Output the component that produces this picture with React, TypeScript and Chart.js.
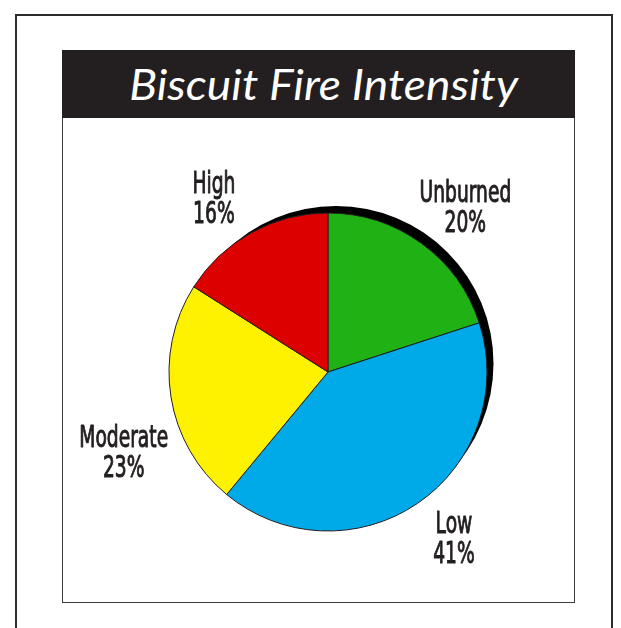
import React, { useEffect, useRef } from "react";
import { Chart, ArcElement, PieController } from "chart.js";

Chart.register(ArcElement, PieController);

const titleText = "Biscuit Fire Intensity";
const categories = ["Unburned", "Low", "Moderate", "High"];
const percentages = [20, 41, 23, 16];
const sliceColors = ["#20b215", "#00a9e8", "#fff200", "#dc0000"];

// label placement (nudges from the slice mid-angle anchor), px
const labelNudges: [number, number][] = [
  [14, 3],
  [8, -9],
  [3, 46],
  [-13, 8],
];

const INK = "#231f20";
const LABEL_FONT = "31px 'DejaVu Sans Condensed', 'DejaVu Sans', sans-serif";
const LABEL_SCALE_X = 0.67;
const LINE_SPACING = 30;
const CAP = 23;

const shadowPlugin = {
  id: "pieShadow",
  beforeDatasetsDraw(chart: any) {
    const meta = chart.getDatasetMeta(0);
    const arc = meta.data[0];
    if (!arc) return;
    const { x, y, outerRadius } = arc.getProps(["x", "y", "outerRadius"], true);
    const ctx = chart.ctx;
    ctx.save();
    ctx.fillStyle = "#000000";
    ctx.beginPath();
    ctx.arc(x + 8, y - 8.5, outerRadius - 1.5, 0, Math.PI * 2);
    ctx.fill();
    ctx.restore();
  },
};

const labelPlugin = {
  id: "sliceLabels",
  afterDatasetsDraw(chart: any) {
    const meta = chart.getDatasetMeta(0);
    const ctx = chart.ctx;
    meta.data.forEach((arc: any, i: number) => {
      const { x, y, startAngle, endAngle, outerRadius } = arc.getProps(
        ["x", "y", "startAngle", "endAngle", "outerRadius"],
        true
      );
      const mid = (startAngle + endAngle) / 2;
      const d = outerRadius * 1.32;
      const cx = x + Math.cos(mid) * d + labelNudges[i][0];
      const cy = y + Math.sin(mid) * d + labelNudges[i][1];
      const lines = [categories[i], `${percentages[i]}%`];
      ctx.save();
      ctx.font = LABEL_FONT;
      ctx.fillStyle = INK;
      ctx.strokeStyle = INK;
      ctx.lineWidth = 1;
      ctx.lineJoin = "round";
      ctx.textAlign = "center";
      ctx.textBaseline = "alphabetic";
      ctx.translate(cx, cy);
      ctx.scale(LABEL_SCALE_X, 1);
      const b1 = -LINE_SPACING / 2 + CAP / 2;
      const b2 = LINE_SPACING / 2 + CAP / 2;
      ctx.fillText(lines[0], 0, b1);
      ctx.strokeText(lines[0], 0, b1);
      ctx.fillText(lines[1], 0, b2);
      ctx.strokeText(lines[1], 0, b2);
      ctx.restore();
    });
  },
};

export default function App() {
  const canvasRef = useRef<HTMLCanvasElement | null>(null);

  useEffect(() => {
    if (!canvasRef.current) return;
    const chart = new Chart(canvasRef.current, {
      type: "pie",
      data: {
        labels: categories,
        datasets: [
          {
            data: percentages,
            backgroundColor: sliceColors,
            borderColor: INK,
            borderWidth: 1,
          },
        ],
      },
      options: {
        animation: false,
        responsive: false,
        maintainAspectRatio: false,
        radius: 159,
        layout: { padding: { left: 104, right: 85, top: 93, bottom: 69 } },
        plugins: {
          legend: { display: false },
          tooltip: { enabled: false },
          title: { display: false },
        },
      } as any,
      plugins: [shadowPlugin, labelPlugin],
    });
    return () => chart.destroy();
  }, []);

  return (
    <div style={{ position: "absolute", left: 0, top: 0, width: 621, height: 628, overflow: "hidden", background: "#fff" }}>
      <div
        style={{
          position: "absolute",
          left: 15,
          top: 14,
          width: 598,
          height: 680,
          border: "2px solid #2e2b2c",
          boxSizing: "border-box",
        }}
      />
      <div
        style={{
          position: "absolute",
          left: 62,
          top: 50,
          width: 513,
          height: 553,
          border: "1.5px solid #3c3a3b",
          boxSizing: "border-box",
        }}
      />
      <div
        style={{
          position: "absolute",
          left: 62,
          top: 50,
          width: 513,
          height: 68,
          background: INK,
          color: "#ffffff",
          display: "flex",
          alignItems: "center",
          justifyContent: "center",
          paddingLeft: 10,
          boxSizing: "border-box",
        }}
      >
        <span
          style={{
            fontFamily: "Lato, 'Open Sans', sans-serif",
            fontStyle: "italic",
            fontWeight: 400,
            fontSize: 42,
            lineHeight: "68px",
            display: "inline-block",
            whiteSpace: "nowrap",
            transform: "scaleX(1.1)",
          }}
        >
          {titleText}
        </span>
      </div>
      <canvas
        ref={canvasRef}
        width={511}
        height={484}
        style={{ position: "absolute", left: 63, top: 118, width: 511, height: 484 }}
      />
    </div>
  );
}
